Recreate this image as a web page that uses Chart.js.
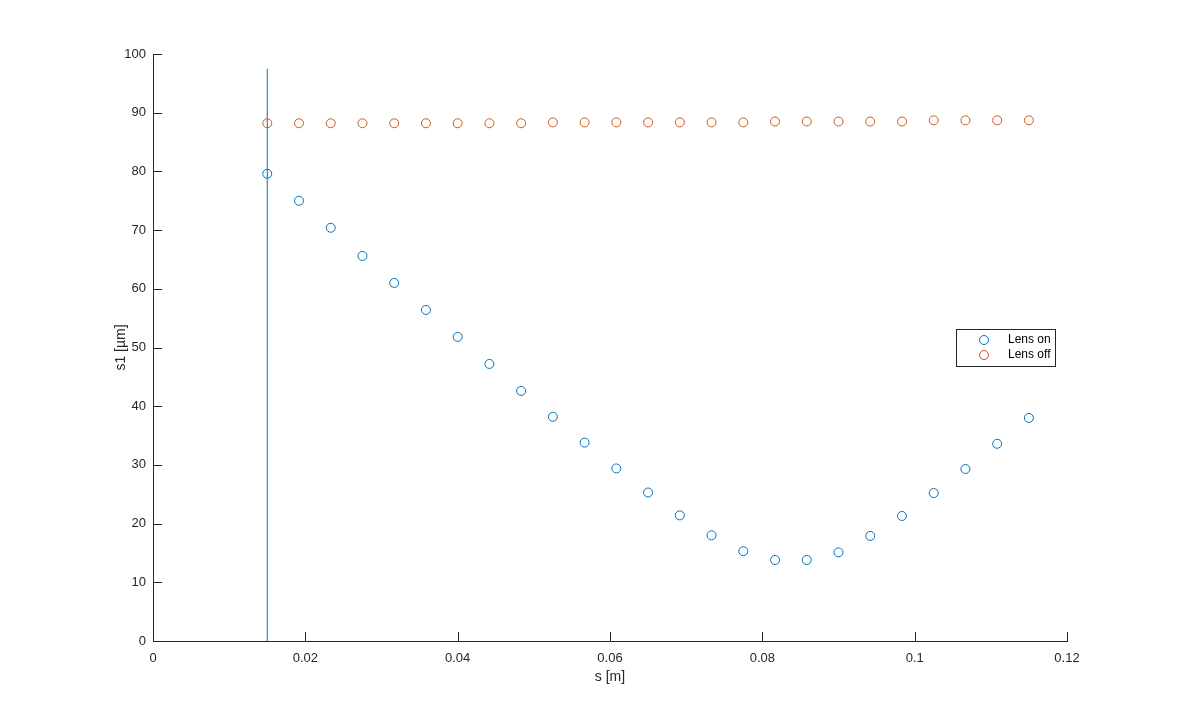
<!DOCTYPE html>
<html>
<head>
<meta charset="utf-8">
<script src="https://cdn.jsdelivr.net/npm/chart.js@4/dist/chart.umd.min.js"></script>
<style>
  body { margin: 0; background: #fff; }
  #wrap { width: 1180px; height: 721px; }
</style>
</head>
<body>
<div id="wrap"><canvas id="plot" width="1180" height="721"></canvas></div>
<script>
// s [m] positions
const sValues = [0.015, 0.019167, 0.023333, 0.0275, 0.031667, 0.035833, 0.04, 0.044167, 0.048333,
  0.0525, 0.056667, 0.060833, 0.065, 0.069167, 0.073333, 0.0775, 0.081667, 0.085833, 0.09,
  0.094167, 0.098333, 0.1025, 0.106667, 0.110833, 0.115]
const lensOn = [79.6, 75.0, 70.4, 65.6, 61.0, 56.4, 51.8, 47.2, 42.6, 38.2, 33.8, 29.4, 25.3,
  21.4, 18.0, 15.3, 13.8, 13.8, 15.1, 17.9, 21.3, 25.2, 29.3, 33.6, 38.0]
const lensOff = [88.2, 88.2, 88.2, 88.2, 88.2, 88.2, 88.2, 88.2, 88.2, 88.35, 88.35, 88.35,
  88.35, 88.35, 88.35, 88.35, 88.5, 88.5, 88.5, 88.5, 88.5, 88.7, 88.7, 88.7, 88.7]
const lensPos = [0.015, 0.015]
const lensLine = [0, 97.5]
const seriesNames = ['Lens on', 'Lens off']

const axisColor = '#262626'
const blue = '#0072BD'
const orange = '#D95319'

const toPts = (xs, ys) => xs.map((x, i) => ({x: x, y: ys[i]}))

// MATLAB style inward ticks
const inwardTicks = {
  id: 'inwardTicks',
  afterDraw(chart) {
    const ctx = chart.ctx, xs = chart.scales.x, ys = chart.scales.y
    const len = 9
    ctx.save()
    ctx.strokeStyle = axisColor
    ctx.lineWidth = 1
    ctx.beginPath()
    xs.ticks.forEach(t => {
      const px = Math.round(xs.getPixelForValue(t.value)) + 0.5
      ctx.moveTo(px, xs.top)
      ctx.lineTo(px, xs.top - len)
    })
    ys.ticks.forEach(t => {
      const py = Math.round(ys.getPixelForValue(t.value)) + 0.5
      ctx.moveTo(ys.right, py)
      ctx.lineTo(ys.right + len, py)
    })
    ctx.stroke()
    ctx.restore()
  }
}

// boxed legend placed like the original
const boxLegend = {
  id: 'boxLegend',
  afterDraw(chart) {
    const ctx = chart.ctx
    const x0 = 956, y0 = 329, w = 99, h = 37
    ctx.save()
    ctx.fillStyle = '#fff'
    ctx.fillRect(x0, y0, w, h)
    ctx.strokeStyle = axisColor
    ctx.lineWidth = 1
    ctx.strokeRect(x0 + 0.5, y0 + 0.5, w, h)
    ctx.font = '12px "Liberation Sans", Arial, sans-serif'
    ctx.textBaseline = 'middle'
    seriesNames.forEach((name, i) => {
      const ds = chart.data.datasets[i]
      const cy = y0 + 11 + i * 15
      ctx.beginPath()
      ctx.arc(x0 + 28, cy, 4.5, 0, Math.PI * 2)
      ctx.strokeStyle = ds.borderColor
      ctx.stroke()
      ctx.fillStyle = '#000'
      ctx.fillText(name, x0 + 52, cy)
    })
    ctx.restore()
  }
}

const tickFont = {family: '"Liberation Sans", Arial, sans-serif', size: 13}
const titleFont = {family: '"Liberation Sans", Arial, sans-serif', size: 14}

new Chart(document.getElementById('plot').getContext('2d'), {
  type: 'scatter',
  data: {
    datasets: [{
      label: seriesNames[0],
      data: toPts(sValues, lensOn),
      borderColor: blue,
      backgroundColor: 'transparent',
      pointRadius: 4.5,
      pointBorderWidth: 1,
      pointHoverRadius: 4.5
    }, {
      label: seriesNames[1],
      data: toPts(sValues, lensOff),
      borderColor: orange,
      backgroundColor: 'transparent',
      pointRadius: 4.5,
      pointBorderWidth: 1,
      pointHoverRadius: 4.5
    }, {
      label: 'lens',
      data: toPts(lensPos, lensLine),
      showLine: true,
      borderColor: blue,
      borderWidth: 1,
      pointRadius: 0
    }]
  },
  options: {
    responsive: false,
    animation: false,
    layout: {padding: {left: 0, right: 113, top: 54, bottom: 0}},
    plugins: {
      legend: {display: false},
      tooltip: {enabled: false}
    },
    scales: {
      x: {
        type: 'linear',
        min: 0,
        max: 0.12,
        grid: {display: false, drawTicks: false, tickLength: 0},
        border: {display: true, color: axisColor, width: 1},
        ticks: {
          stepSize: 0.02,
          color: axisColor,
          font: tickFont,
          padding: 10,
          maxRotation: 0,
          callback: v => String(Number(v.toFixed(4)))
        },
        title: {display: true, text: 's [m]', color: axisColor, font: titleFont, padding: {top: 0, bottom: 35}},
        afterFit: s => { s.height = 80 }
      },
      y: {
        min: 0,
        max: 100,
        grid: {display: false, drawTicks: false, tickLength: 0},
        border: {display: true, color: axisColor, width: 1},
        ticks: {stepSize: 10, color: axisColor, font: tickFont, padding: 7},
        title: {display: true, text: 's1 [µm]', color: axisColor, font: titleFont, padding: {top: 113, bottom: 0}},
        afterFit: s => { s.width = 153 }
      }
    }
  },
  plugins: [inwardTicks, boxLegend]
})
</script>
</body>
</html>
